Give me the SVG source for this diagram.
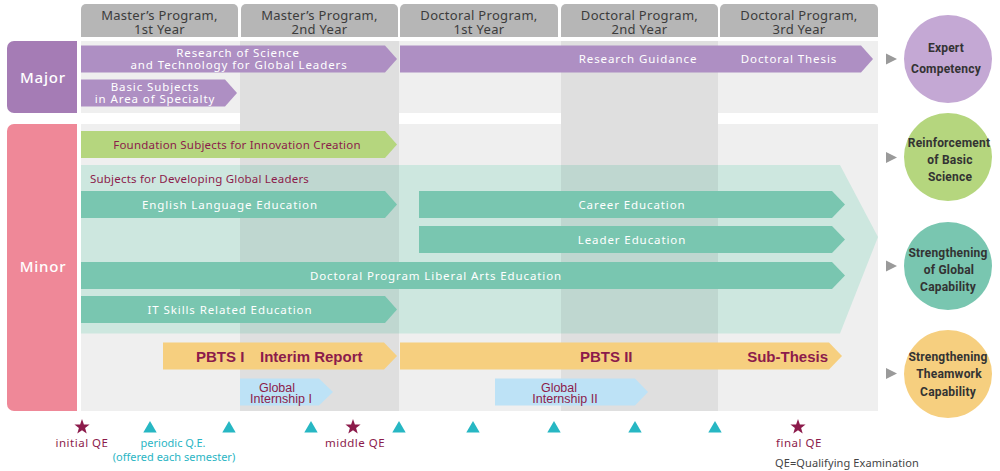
<svg xmlns="http://www.w3.org/2000/svg" width="1000" height="471" viewBox="0 0 1000 471">
<defs>
<style>
.hdr{fill:#b6b6b6}
.hdrt{font-family:"Noto Sans",sans-serif;font-size:13px;fill:#3c3c3c;text-anchor:middle;letter-spacing:0.3px}
.panel{fill:#efefef}
.shade{fill:#000;fill-opacity:0.065}
.purple{fill:#ae8fc3}
.green{fill:#b5d67e}
.teal{fill:#79c6b0}
.yellow{fill:#f6cf7f}
.blue{fill:#bde2f6}
.wt{font-family:"Noto Sans",sans-serif;font-size:11.5px;fill:#fff;text-anchor:middle;letter-spacing:0.9px}
.rt{font-family:"Noto Sans",sans-serif;font-size:11.5px;fill:#8c1b4b;letter-spacing:0.2px}
.bt{font-family:"Liberation Sans",Arial,sans-serif;font-size:15px;font-weight:bold;fill:#8c1b4b}
.gt{font-family:"Liberation Sans",Arial,sans-serif;font-size:12.5px;fill:#8c1b4b;text-anchor:middle}
.ct{font-family:Roboto,"Liberation Sans",sans-serif;font-size:12px;font-weight:bold;fill:#333;text-anchor:middle;letter-spacing:0.2px}
.lab{font-family:"Noto Sans",sans-serif;font-size:15px;font-weight:500;fill:#fff;text-anchor:middle;letter-spacing:0.8px}
.ptr{fill:#9a9a9a}
.tri{fill:#27b7c3}
.star{fill:#8c1b4b}
.qr{font-family:"Noto Sans",sans-serif;font-size:11.5px;fill:#8c1b4b;text-anchor:middle;letter-spacing:0.5px}
.qt{font-family:"Noto Sans",sans-serif;font-size:11px;fill:#2ab5c4;text-anchor:middle}
</style>
<polygon id="starshape" points="0,-8 1.9,-2.6 7.6,-2.5 3.1,1 4.7,6.5 0,3.2 -4.7,6.5 -3.1,1 -7.6,-2.5 -1.9,-2.6"/>
<polygon id="trishape" points="0,-6 6.7,5.5 -6.7,5.5"/>
</defs>

<!-- background panels -->
<g id="panels">
<rect class="panel" x="81" y="41" width="797" height="72"/>
<rect class="panel" x="81" y="124" width="797" height="287"/>
<rect class="panel" x="240" y="113" width="159" height="11"/>
<rect class="panel" x="561" y="113" width="157" height="11"/>
</g>

<!-- header tabs -->
<g id="headers">
<g id="h1"><path class="hdr" d="M81,37 V9 a5,5 0 0 1 5,-5 H233 a5,5 0 0 1 5,5 V37 Z"/><text class="hdrt" x="159.5" y="19.5">Master’s Program,</text><text class="hdrt" x="159.5" y="33.5">1st Year</text></g>
<g id="h2"><path class="hdr" d="M241,37 V9 a5,5 0 0 1 5,-5 H393 a5,5 0 0 1 5,5 V37 Z"/><text class="hdrt" x="319.5" y="19.5">Master’s Program,</text><text class="hdrt" x="319.5" y="33.5">2nd Year</text></g>
<g id="h3"><path class="hdr" d="M400,37 V9 a5,5 0 0 1 5,-5 H553 a5,5 0 0 1 5,5 V37 Z"/><text class="hdrt" x="479" y="19.5">Doctoral Program,</text><text class="hdrt" x="479" y="33.5">1st Year</text></g>
<g id="h4"><path class="hdr" d="M561,37 V9 a5,5 0 0 1 5,-5 H713 a5,5 0 0 1 5,5 V37 Z"/><text class="hdrt" x="639.5" y="19.5">Doctoral Program,</text><text class="hdrt" x="639.5" y="33.5">2nd Year</text></g>
<g id="h5"><path class="hdr" d="M720,37 V9 a5,5 0 0 1 5,-5 H873 a5,5 0 0 1 5,5 V37 Z"/><text class="hdrt" x="799" y="19.5">Doctoral Program,</text><text class="hdrt" x="799" y="33.5">3rd Year</text></g>
</g>

<!-- side labels -->
<g id="major-label"><path d="M77,41 V113 H14 a7,7 0 0 1 -7,-7 V48 a7,7 0 0 1 7,-7 Z" fill="#a57cb5"/><text class="lab" x="43" y="83">Major</text></g>
<g id="minor-label"><path d="M77,124 V411 H14 a7,7 0 0 1 -7,-7 V131 a7,7 0 0 1 7,-7 Z" fill="#ef8898"/><text class="lab" x="43" y="272">Minor</text></g>

<!-- global leaders big arrow -->
<g id="global-leaders">
<polygon points="81,165 840,165 878,237 840,333.5 81,333.5" fill="#cde7df"/>
</g>

<!-- darker column shading -->
<g id="shading">
<rect class="shade" x="240" y="41" width="159" height="370"/>
<rect class="shade" x="561" y="41" width="157" height="370"/>
</g>
<text class="rt" x="90" y="183">Subjects for Developing Global Leaders</text>

<!-- major arrows -->
<g id="research-sci">
<polygon class="purple" points="81,45.5 385,45.5 397,59 385,72.5 81,72.5"/>
<text class="wt" x="238" y="57">Research of Science</text>
<text class="wt" x="239" y="69">and Technology for Global Leaders</text>
</g>
<g id="research-guidance">
<polygon class="purple" points="400,45.5 861,45.5 873,59 861,72.5 400,72.5"/>
<text class="wt" x="638" y="63">Research Guidance</text>
<text class="wt" x="789" y="63">Doctoral Thesis</text>
</g>
<g id="basic-subjects">
<polygon class="purple" points="81,79.5 225,79.5 237,93 225,106.5 81,106.5"/>
<text class="wt" x="155" y="91">Basic Subjects</text>
<text class="wt" x="155" y="103">in Area of Specialty</text>
</g>

<!-- minor arrows -->
<g id="foundation">
<polygon class="green" points="81,131 385,131 397,144.5 385,158 81,158"/>
<text class="rt" x="237" y="149" text-anchor="middle" letter-spacing="0.35">Foundation Subjects for Innovation Creation</text>
</g>
<g id="english">
<polygon class="teal" points="81,191 385,191 397,204.5 385,218 81,218"/>
<text class="wt" x="230" y="209">English Language Education</text>
</g>
<g id="career">
<polygon class="teal" points="419,191 832,191 845,204.5 832,218 419,218"/>
<text class="wt" x="632" y="209">Career Education</text>
</g>
<g id="leader">
<polygon class="teal" points="419,226 832,226 845,239.5 832,253 419,253"/>
<text class="wt" x="632" y="244">Leader Education</text>
</g>
<g id="liberal-arts">
<polygon class="teal" points="81,262 832,262 845,275.5 832,289 81,289"/>
<text class="wt" x="436" y="279.5">Doctoral Program Liberal Arts Education</text>
</g>
<g id="it-skills">
<polygon class="teal" points="81,296 385,296 397,309.5 385,323 81,323"/>
<text class="wt" x="230" y="314">IT Skills Related Education</text>
</g>
<g id="pbts1">
<polygon class="yellow" points="163,342.5 384,342.5 397,356 384,369.5 163,369.5"/>
<text class="bt" x="196" y="362">PBTS I</text>
<text class="bt" x="260" y="362">Interim Report</text>
</g>
<g id="pbts2">
<polygon class="yellow" points="400,342.5 829,342.5 842,356 829,369.5 400,369.5"/>
<text class="bt" x="580" y="362">PBTS II</text>
<text class="bt" x="828" y="362" text-anchor="end">Sub-Thesis</text>
</g>
<g id="internship1">
<polygon class="blue" points="240,378.5 319,378.5 333,392 319,405.5 240,405.5"/>
<text class="gt" x="277" y="391.5">Global</text>
<text class="gt" x="281" y="403">Internship I</text>
</g>
<g id="internship2">
<polygon class="blue" points="495,378.5 635,378.5 648,392 635,405.5 495,405.5"/>
<text class="gt" x="559" y="391.5">Global</text>
<text class="gt" x="565" y="403">Internship II</text>
</g>

<!-- outcome circles -->
<g id="expert">
<circle cx="948" cy="59" r="44" fill="#c4a8d4"/>
<text class="ct" x="946" y="52">Expert</text>
<text class="ct" x="946" y="73">Competency</text>
</g>
<g id="basic-science">
<circle cx="948" cy="157" r="44" fill="#b5d67e"/>
<text class="ct" x="949" y="147">Reinforcement</text>
<text class="ct" x="950" y="164">of Basic</text>
<text class="ct" x="950" y="181">Science</text>
</g>
<g id="global-capability">
<circle cx="948" cy="266" r="44" fill="#79c6b0"/>
<text class="ct" x="948" y="257">Strengthening</text>
<text class="ct" x="949" y="274">of Global</text>
<text class="ct" x="948" y="291">Capability</text>
</g>
<g id="teamwork">
<circle cx="948" cy="374" r="44" fill="#f6cf7f"/>
<text class="ct" x="948" y="361">Strengthening</text>
<text class="ct" x="949" y="378">Theamwork</text>
<text class="ct" x="948" y="396">Capability</text>
</g>

<!-- connectors -->
<g id="connectors">
<polygon class="ptr" points="886,53.5 897,59 886,64.5"/>
<polygon class="ptr" points="886,152 897,157.5 886,163"/>
<polygon class="ptr" points="886,260.5 897,266 886,271.5"/>
<polygon class="ptr" points="886,368 897,373.5 886,379"/>
</g>

<!-- exam markers -->
<g id="markers">
<use href="#starshape" class="star" x="82" y="427"/>
<use href="#starshape" class="star" x="353" y="427"/>
<use href="#starshape" class="star" x="798" y="427"/>
<use href="#trishape" class="tri" x="150" y="427"/>
<use href="#trishape" class="tri" x="229" y="427"/>
<use href="#trishape" class="tri" x="311" y="427"/>
<use href="#trishape" class="tri" x="399" y="427"/>
<use href="#trishape" class="tri" x="473" y="427"/>
<use href="#trishape" class="tri" x="554" y="427"/>
<use href="#trishape" class="tri" x="635" y="427"/>
<use href="#trishape" class="tri" x="715" y="427"/>
<text class="qr" x="82" y="447">initial QE</text>
<text class="qt" x="173" y="447">periodic Q.E.</text>
<text class="qt" x="174" y="461">(offered each semester)</text>
<text class="qr" x="355" y="447">middle QE</text>
<text class="qr" x="799" y="447">final QE</text>
<text x="775" y="467" font-family="Noto Sans, sans-serif" font-size="11px" fill="#444" letter-spacing="0.1">QE=Qualifying Examination</text>
</g>
</svg>
